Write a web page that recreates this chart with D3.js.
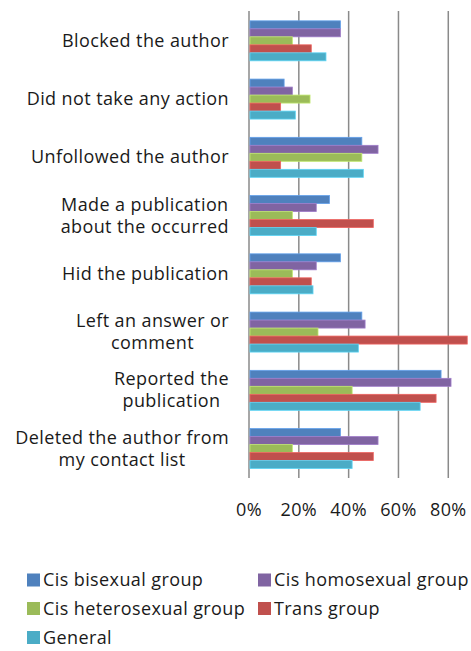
<!DOCTYPE html>
<html>
<head>
<meta charset="utf-8">
<script src="https://cdn.jsdelivr.net/npm/d3@7"></script>
<style>
  html, body { margin: 0; padding: 0; background: #fff; }
  text { font-family: "Open Sans", Lato, sans-serif; fill: #1a1a1a; letter-spacing: 0.4px; }
</style>
</head>
<body>
<svg id="chart" width="471" height="651"></svg>
<script>
const categories = [
  "Blocked the author",
  "Did not take any action",
  "Unfollowed the author",
  "Made a publication\nabout the occurred",
  "Hid the publication",
  "Left an answer or\ncomment",
  "Reported the\npublication",
  "Deleted the author from\nmy contact list"
];
const seriesNames = ["Cis bisexual group", "Cis homosexual group", "Cis heterosexual group", "Trans group", "General"];
const seriesColors = ["#4F81BD", "#8064A2", "#9BBB59", "#C0504D", "#4BACC6"];
const cisBisexual    = [36.7, 14.1, 45.3, 32.3, 36.7, 45.3, 77.1, 36.7];
const cisHomosexual  = [36.7, 17.4, 51.8, 27.0, 27.0, 46.6, 81.1, 51.8];
const cisHeterosexual= [17.4, 24.5, 45.3, 17.4, 17.4, 27.7, 41.4, 17.4];
const transGroup     = [25.0, 12.7, 12.7, 49.9, 25.0, 87.6, 75.1, 49.9];
const general        = [30.9, 18.6, 45.9, 27.0, 25.7, 43.9, 68.7, 41.4];
const seriesValues = [cisBisexual, cisHomosexual, cisHeterosexual, transGroup, general];
const tickValues = [0, 20, 40, 60, 80];

const svg = d3.select("#chart");
const x = d3.scaleLinear().domain([0, 90]).range([249, 473.2]);
const y = d3.scaleBand().domain(d3.range(categories.length)).range([11.7, 477.7]).paddingInner(0).paddingOuter(0);
const barH = 8;
const groupH = barH * seriesNames.length;
const inner = d3.scaleBand().domain(d3.range(seriesNames.length)).range([0, groupH]);
const fs = 18;

// gridlines
svg.append("g").selectAll("line").data(tickValues).join("line")
  .attr("x1", d => x(d)).attr("x2", d => x(d))
  .attr("y1", 11).attr("y2", 478)
  .attr("stroke", "#8a8a8a").attr("stroke-width", 1.5);

// bars
const groups = svg.append("g").selectAll("g").data(categories).join("g")
  .attr("transform", (d, i) => `translate(0,${y(i) + (y.bandwidth() - groupH) / 2})`);
groups.selectAll("rect").data((d, i) => seriesValues.map((s, k) => ({ k, v: s[i] }))).join("rect")
  .attr("x", x(0) + 1)
  .attr("y", d => inner(d.k))
  .attr("width", d => x(d.v) - x(0) - 1)
  .attr("height", barH)
  .attr("fill", d => seriesColors[d.k])
  .attr("stroke", d => d3.color(seriesColors[d.k]).brighter(0.6))
  .attr("stroke-width", 0.8);

// x tick labels
svg.append("g").selectAll("text").data(tickValues).join("text")
  .attr("x", d => x(d)).attr("y", 516)
  .attr("text-anchor", "middle")
  .attr("font-size", fs)
  .text(d => d + "%");

// category labels (wrapped blocks, right aligned, lines centered)
const rightEdge = 229;
const lineH = 22;
categories.forEach((c, i) => {
  const lines = c.split("\n");
  const cy = y(i) + y.bandwidth() / 2;
  const g = svg.append("g");
  const texts = lines.map((l, j) => g.append("text")
    .attr("font-size", fs)
    .attr("y", cy + (j - (lines.length - 1) / 2) * lineH + 6)
    .attr("text-anchor", "middle")
    .text(l));
  const w = d3.max(texts, t => t.node().getComputedTextLength());
  texts.forEach(t => t.attr("x", rightEdge - w / 2));
});

// legend
const legendPos = [[27, 580], [258, 580], [27, 608.5], [258, 608.5], [27, 637.5]];
const leg = svg.append("g").selectAll("g").data(seriesNames).join("g")
  .attr("transform", (d, i) => `translate(${legendPos[i][0]},${legendPos[i][1]})`);
leg.append("rect").attr("x", 0).attr("y", -6.5).attr("width", 13).attr("height", 13)
  .attr("fill", (d, i) => seriesColors[i]);
leg.append("text").attr("x", 16).attr("y", 6).attr("font-size", fs).text(d => d);
</script>
</body>
</html>
